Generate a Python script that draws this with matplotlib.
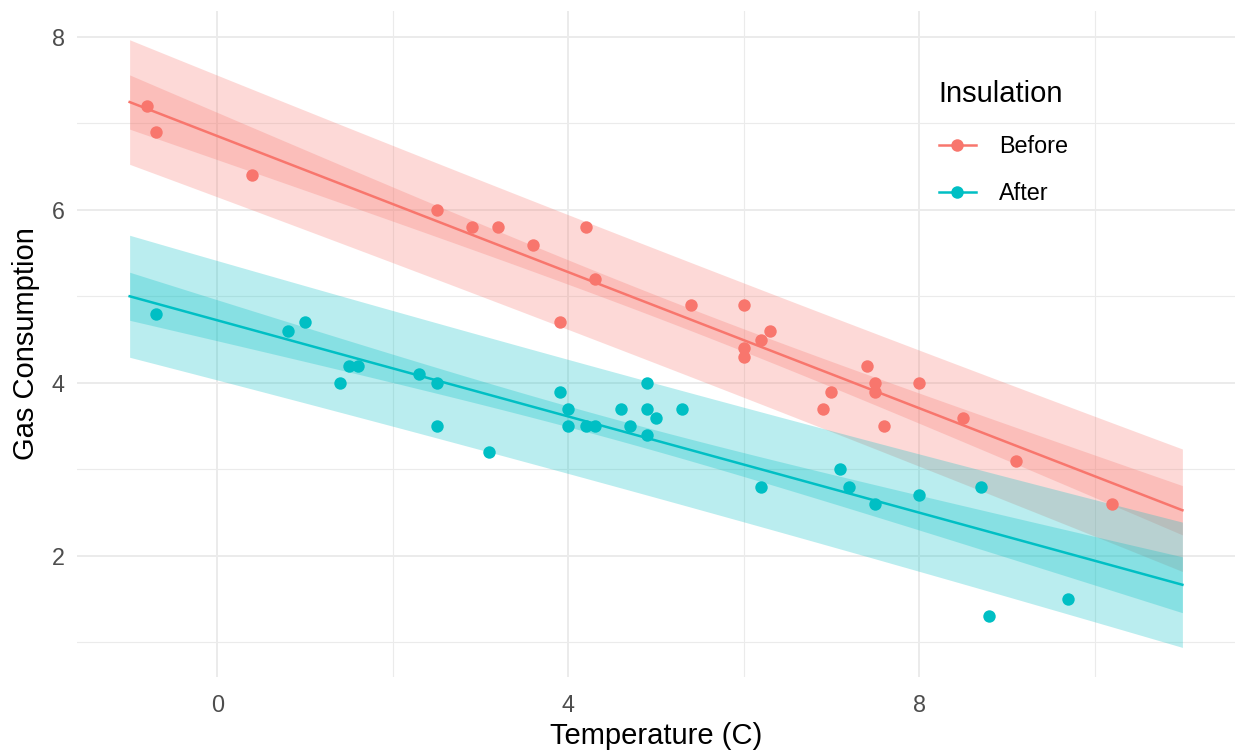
import matplotlib.pyplot as plt
import numpy as np
from matplotlib.ticker import MultipleLocator
from matplotlib.lines import Line2D

plt.rcParams['font.family'] = ['Liberation Sans', 'DejaVu Sans']

# whiteside gas consumption, before and after insulation
temp_before = [-0.8, -0.7, 0.4, 2.5, 2.9, 3.2, 3.6, 3.9, 4.2, 4.3, 5.4, 6.0, 6.0,
               6.0, 6.2, 6.3, 6.9, 7.0, 7.4, 7.5, 7.5, 7.6, 8.0, 8.5, 9.1, 10.2]
gas_before = [7.2, 6.9, 6.4, 6.0, 5.8, 5.8, 5.6, 4.7, 5.8, 5.2, 4.9, 4.9, 4.3,
              4.4, 4.5, 4.6, 3.7, 3.9, 4.2, 4.0, 3.9, 3.5, 4.0, 3.6, 3.1, 2.6]
temp_after = [-0.7, 0.8, 1.0, 1.4, 1.5, 1.6, 2.3, 2.5, 2.5, 3.1, 3.9, 4.0, 4.0,
              4.2, 4.3, 4.6, 4.7, 4.9, 4.9, 4.9, 5.0, 5.3, 6.2, 7.1, 7.2, 7.5,
              8.0, 8.7, 8.8, 9.7]
gas_after = [4.8, 4.6, 4.7, 4.0, 4.2, 4.2, 4.1, 4.0, 3.5, 3.2, 3.9, 3.5, 3.7,
             3.5, 3.5, 3.7, 3.5, 3.4, 3.7, 4.0, 3.6, 3.7, 2.8, 3.0, 2.8, 2.6,
             2.7, 2.8, 1.3, 1.5]

groups = ['Before', 'After']
colors = {'Before': '#F8766D', 'After': '#00BFC4'}
data = {'Before': (np.array(temp_before), np.array(gas_before)),
        'After': (np.array(temp_after), np.array(gas_after))}

x_grid = np.linspace(-1, 11, 200)

# Gas ~ Temp * Insul: separate lines, one pooled residual variance
coefs = {g: np.polyfit(*data[g], 1) for g in groups}
rss = sum(np.sum((data[g][1] - np.polyval(coefs[g], data[g][0])) ** 2) for g in groups)
n_tot = sum(len(data[g][0]) for g in groups)
df = n_tot - 4
s = np.sqrt(rss / df)
t975 = 2.0066  # t quantile, 52 df


def bands(g, xs):
    x = data[g][0]
    n = len(x)
    sxx = np.sum((x - x.mean()) ** 2)
    fit = np.polyval(coefs[g], xs)
    lev = 1 / n + (xs - x.mean()) ** 2 / sxx
    return fit, t975 * s * np.sqrt(lev), t975 * s * np.sqrt(1 + lev)


fig = plt.figure(figsize=(12.38, 7.51), dpi=100)
ax = fig.add_axes([0.0622, 0.0985, 0.9354, 0.8869])

for g in groups:
    fit, ci, pi = bands(g, x_grid)
    ax.fill_between(x_grid, fit - pi, fit + pi, color=colors[g], alpha=0.27, lw=0)
    ax.fill_between(x_grid, fit - ci, fit + ci, color=colors[g], alpha=0.27, lw=0)
for g in groups:
    fit, ci, pi = bands(g, x_grid)
    ax.plot(x_grid, fit, color=colors[g], lw=1.8, zorder=3)
    ax.scatter(data[g][0], data[g][1], s=80, color=colors[g], lw=0, zorder=4)

ax.set_xlim(-1.6, 11.6)
ax.set_ylim(0.6, 8.3)
ax.xaxis.set_major_locator(MultipleLocator(4))
ax.xaxis.set_minor_locator(MultipleLocator(2))
ax.yaxis.set_major_locator(MultipleLocator(2))
ax.yaxis.set_minor_locator(MultipleLocator(1))
ax.grid(which='major', color='#EBEBEB', lw=1.4, zorder=0)
ax.grid(which='minor', color='#EBEBEB', lw=0.8, zorder=0)
ax.set_axisbelow(True)
for sp in ax.spines.values():
    sp.set_visible(False)
ax.tick_params(which='both', length=0, labelsize=16.8, labelcolor='#4D4D4D')
ax.tick_params(axis='x', pad=12)
ax.tick_params(axis='y', pad=9)

ax.set_xlabel('Temperature (C)', fontsize=21, labelpad=4)
ax.set_ylabel('Gas Consumption', fontsize=21, labelpad=8)

handles = [Line2D([], [], color=colors[g], lw=1.8, marker='o', markersize=9,
                  markeredgewidth=0) for g in groups]
leg = ax.legend(handles, groups, title='Insulation', loc='upper left',
                bbox_to_anchor=(0.736, 0.911), frameon=False, fontsize=16.8,
                title_fontsize=21, handlelength=1.6, handletextpad=1.0,
                labelspacing=1.0, borderaxespad=0)
leg._legend_box.align = 'left'
leg._legend_box.sep = 20

fig.savefig('out.png', dpi=100)
